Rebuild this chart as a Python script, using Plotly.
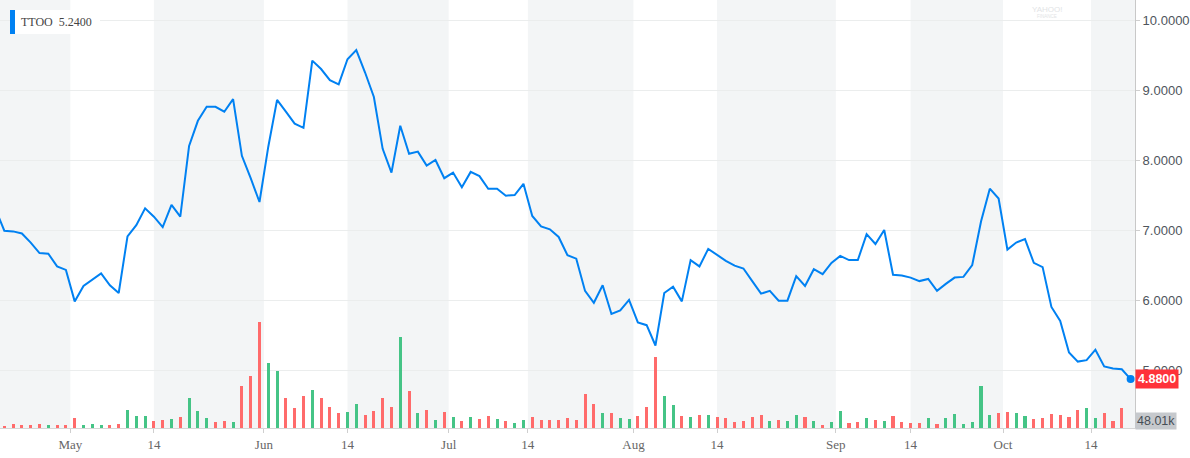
import plotly.graph_objects as go
import pandas as pd

# ---------------- data ----------------
holidays = ["2018-05-28", "2018-07-04", "2018-09-03"]
dates = [d for d in pd.bdate_range("2018-04-18", "2018-10-19") if d.strftime("%Y-%m-%d") not in holidays]

close = [
    7.31,
    7.00, 6.99, 6.96, 6.83, 6.68, 6.67, 6.49, 6.44, 5.99, 6.21,
    6.30, 6.39, 6.22, 6.11, 6.92, 7.08, 7.32, 7.20, 7.05, 7.37,
    7.20, 8.21, 8.57, 8.77, 8.77, 8.70, 8.88, 8.07, 7.75, 7.41,
    8.20, 8.87, 8.70, 8.53, 8.47, 9.43, 9.31, 9.15, 9.09, 9.45,
    9.58, 9.26, 8.91, 8.17, 7.83, 8.50, 8.10, 8.13, 7.93, 8.01,
    7.75, 7.83, 7.62, 7.84, 7.78, 7.60, 7.60, 7.50, 7.51, 7.67,
    7.21, 7.06, 7.02, 6.91, 6.65, 6.60, 6.14, 5.97, 6.22, 5.81,
    5.86, 6.01, 5.69, 5.65, 5.36, 6.11, 6.20, 5.99, 6.58, 6.49,
    6.74, 6.65, 6.57, 6.50, 6.46, 6.28, 6.10, 6.14, 6.00, 6.00,
    6.35, 6.21, 6.45, 6.38, 6.54, 6.64, 6.58, 6.58, 6.95, 6.81,
    7.01, 6.37, 6.36, 6.33, 6.28, 6.31, 6.14, 6.24, 6.33, 6.34,
    6.51, 7.13, 7.60, 7.46, 6.73, 6.83, 6.88, 6.54, 6.48, 5.91,
    5.71, 5.26, 5.13, 5.15, 5.30, 5.06, 5.03, 5.02, 4.88,
]

volume_k = [
    None,
    5.4, 8.8, 6.4, 6.4, 8.8, 7.1, 6.4, 6.4, 22.9, 6.4,
    8.8, 7.1, 6.4, 8.8, 41.9, 27.7, 27.7, 15.8, 18.2, 20.6,
    25.3, 70.2, 40.9, 24.4, 14.9, 17.3, 14.9, 100.0, 123.7, 251.4,
    154.4, 135.5, 71.7, 46.6, 76.4, 89.2, 70.2, 49.0, 36.2, 38.5,
    57.5, 31.5, 40.9, 70.2, 50.4, 215.9, 88.2, 36.2, 43.3, 19.6,
    38.5, 25.3, 17.3, 25.3, 20.6, 29.1, 22.0, 17.3, 12.5, 19.6,
    26.7, 19.6, 19.6, 19.6, 24.4, 19.6, 81.1, 57.5, 36.2, 36.2,
    24.4, 22.0, 29.1, 50.4, 167.2, 76.4, 55.1, 29.1, 26.7, 31.5,
    31.5, 26.7, 24.4, 14.9, 17.3, 26.7, 31.5, 17.3, 19.6, 17.3,
    31.5, 26.7, 17.3, 7.8, 14.9, 40.9, 12.5, 14.9, 24.4, 19.6,
    17.3, 29.1, 14.9, 12.5, 12.5, 24.4, 10.2, 24.4, 33.8, 10.2,
    14.9, 100.0, 31.5, 36.2, 38.5, 36.2, 29.1, 22.0, 24.4, 33.8,
    31.5, 26.7, 43.3, 48.0, 24.4, 36.2, 17.3, 48.0,
    None,
]

direction = ("-"
             "RRRRRGRRRG" "GGRRGGGRRG" "RGGGRRGRRR" "GGRRRGRRRG"
             "GRRRRGRGRG" "RGRGRRGRGG" "RRRRRRRRGR" "GGRRRGGRGR"
             "GRRRRRRGRG" "GRGRGGRRGR" "GRRRRGRGGG" "GGGRRGGRRR"
             "RRRGGRRR" "-")

tick_dates = ["2018-05-01", "2018-05-14", "2018-06-01", "2018-06-14", "2018-07-01", "2018-07-14",
              "2018-08-01", "2018-08-14", "2018-09-01", "2018-09-14", "2018-10-01", "2018-10-14"]
tick_labels = ["May", "14", "Jun", "14", "Jul", "14", "Aug", "14", "Sep", "14", "Oct", "14"]

symbol = "TTOO"
legend_value = "5.2400"
last_price_label = "4.8800"
last_volume_label = "48.01k"

# ---------------- styling ----------------
LINE = "#0081f2"
UP = "#45c486"
DOWN = "#ff6b6b"
BAND = "#f3f5f6"
GRID = "#ebeded"
PLOT_W, PLOT_H = 1135, 428

x = [i - 1 for i in range(len(dates))]
date_str = [d.strftime("%Y-%m-%d") for d in dates]


def tick_pos(ds):
    d = pd.Timestamp(ds)
    if d.day == 14 and ds in date_str:
        return x[date_str.index(ds)]
    for i, dd in enumerate(dates):
        if dd >= d:
            return x[i] - 0.5
    return x[-1] + 0.5


tick_vals = [tick_pos(t) for t in tick_dates]
x_range = [-0.49, x[-1] + 0.5]
y_range = [4.181, 10.296]
vol_range = [0, 1012.2]

bar_colors = [UP if c == "G" else DOWN for c in direction]

fig = go.Figure()
fig.add_trace(go.Bar(x=x, y=volume_k, marker=dict(color=bar_colors, line=dict(width=0)),
                     width=0.35, yaxis="y2", hoverinfo="skip"))
fig.add_trace(go.Scatter(x=x, y=close, mode="lines", line=dict(color=LINE, width=2),
                         hoverinfo="skip"))
fig.add_trace(go.Scatter(x=[x[-1]], y=[close[-1]], mode="markers",
                         marker=dict(color=LINE, size=8), hoverinfo="skip"))

# alternating bands: shaded from each "14" tick to the next month tick
edges = [x_range[0]] + tick_vals + [x_range[1]]
shapes = []
for k in range(0, len(edges) - 1, 2):
    shapes.append(dict(type="rect", xref="x", yref="paper", x0=edges[k], x1=edges[k + 1],
                       y0=0, y1=1, fillcolor=BAND, line=dict(width=0), layer="below"))


def px(v):
    return v / PLOT_W


def py(v):
    return 1 - v / PLOT_H


# legend chip
shapes.append(dict(type="rect", xref="paper", yref="paper", x0=px(15), x1=px(100), y0=py(34), y1=py(10),
                   fillcolor="white", line=dict(width=0), layer="above"))
shapes.append(dict(type="rect", xref="paper", yref="paper", x0=px(10), x1=px(15), y0=py(34), y1=py(10),
                   fillcolor=LINE, line=dict(width=0), layer="above"))

annotations = [
    dict(xref="paper", yref="paper", x=px(19), y=py(22), xanchor="left", yanchor="middle",
         text=symbol + "\u00a0\u00a0" + legend_value, showarrow=False,
         font=dict(family="Liberation Serif", size=12, color="#444444")),
    dict(xref="paper", yref="y", x=1, y=close[-1], xanchor="left", yanchor="middle",
         text="<b>" + last_price_label + "</b>", showarrow=False, bgcolor="#ff333a", borderpad=2,
         font=dict(family="Liberation Sans", size=12.5, color="white")),
    dict(xref="paper", yref="y2", x=1, y=16.6, xanchor="left", yanchor="middle",
         text=last_volume_label, showarrow=False, bgcolor="#c6c9cd", borderpad=1,
         font=dict(family="Liberation Sans", size=12.5, color="#464e56")),
    dict(xref="paper", yref="paper", x=px(1047), y=py(10), xanchor="center", yanchor="middle",
         text="YAHOO!", showarrow=False, font=dict(family="Liberation Sans", size=8, color="#e2e4e6")),
    dict(xref="paper", yref="paper", x=px(1047), y=py(16.5), xanchor="center", yanchor="middle",
         text="FINANCE", showarrow=False, font=dict(family="Liberation Sans", size=4.5, color="#e2e4e6")),
]

fig.update_layout(
    width=1190, height=458,
    margin=dict(l=0, r=1190 - PLOT_W, t=0, b=458 - PLOT_H),
    paper_bgcolor="white", plot_bgcolor="white",
    showlegend=False, bargap=0,
    shapes=shapes, annotations=annotations,
    xaxis=dict(range=x_range, tickmode="array", tickvals=tick_vals, ticktext=tick_labels,
               showgrid=False, zeroline=False, showline=True, linecolor="#d6d6d6", linewidth=1,
               ticks="outside", ticklen=4, tickcolor="#cfcfcf",
               tickfont=dict(family="Liberation Serif", size=13, color="#666666")),
    yaxis=dict(range=y_range, side="right", tickvals=[5, 6, 7, 8, 9, 10], tickformat=".4f",
               showgrid=True, gridcolor=GRID, gridwidth=1, zeroline=False,
               showline=True, linecolor="#c8c8c8", linewidth=1,
               ticks="outside", ticklen=4, tickcolor="#cfcfcf",
               tickfont=dict(family="Liberation Sans", size=13, color="#4e555c")),
    yaxis2=dict(range=vol_range, overlaying="y", visible=False, showgrid=False),
)

fig.write_html("out.html", config={"displayModeBar": False},
               post_script="document.body.style.margin='0';")
